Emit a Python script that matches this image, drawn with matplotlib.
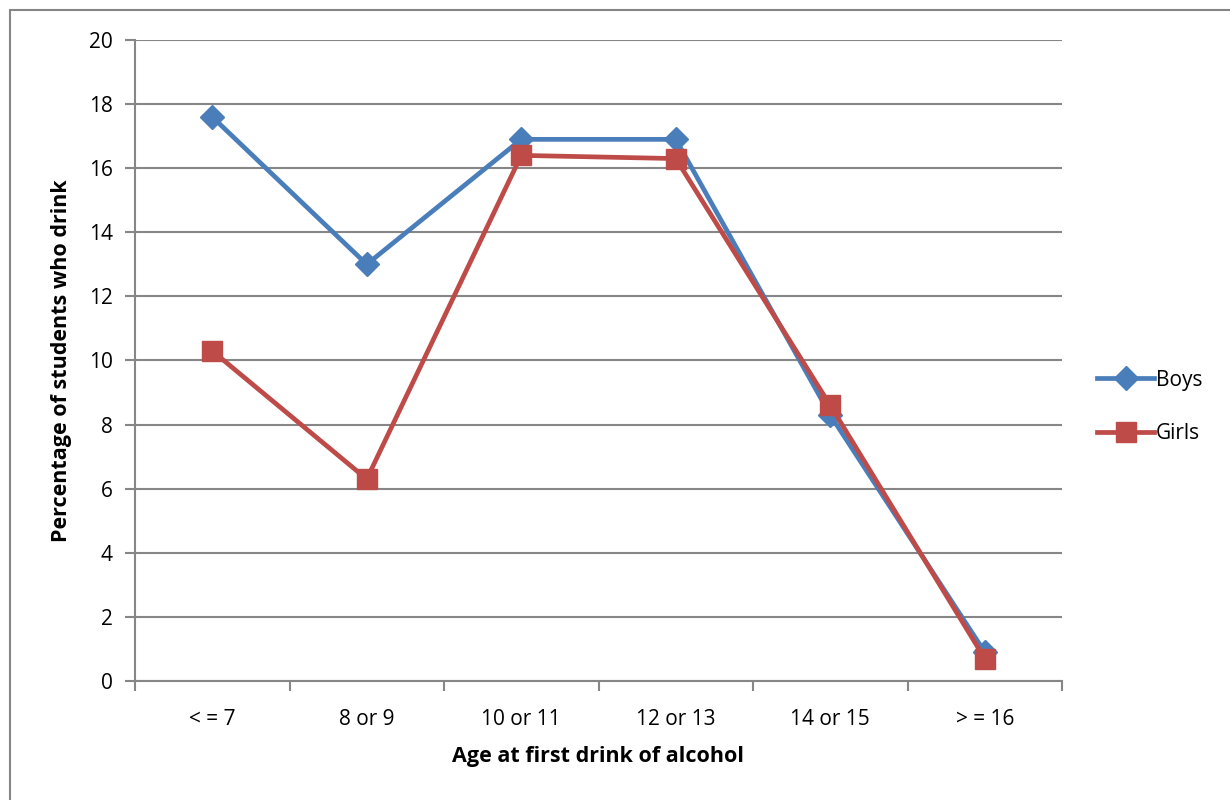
import numpy as np
import matplotlib.pyplot as plt
from matplotlib.patches import Rectangle

categories = ['< = 7', '8 or 9', '10 or 11', '12 or 13', '14 or 15', '> = 16']
boys = [17.6, 13.0, 16.9, 16.9, 8.3, 0.9]
girls = [10.3, 6.3, 16.4, 16.3, 8.6, 0.7]

plt.rcParams['font.family'] = ['Open Sans', 'DejaVu Sans']
grey = '#868686'

fig = plt.figure(figsize=(12.3, 8), dpi=100)
# outer chart frame (cut off on the right and bottom like the original)
fig.patches.append(Rectangle((10 / 1230, -0.5), 2, 1 - 10 / 800 + 0.5,
                             transform=fig.transFigure, fill=False,
                             edgecolor=grey, linewidth=1.5))

ax = fig.add_axes([135 / 1230, 1 - 681 / 800, (1062 - 135) / 1230, (681 - 40) / 800])
x = np.arange(len(categories)) + 0.5

ax.plot(x, boys, color='#4A7EBB', lw=3.4, marker='D', markersize=12, label='Boys', zorder=3)
ax.plot(x, girls, color='#BE4B48', lw=3.4, marker='s', markersize=14, label='Girls', zorder=4)

ax.set_xlim(0, len(categories))
ax.set_ylim(0, 20)
ax.set_yticks(np.arange(0, 21, 2))
ax.set_xticks(np.arange(0, len(categories) + 1))
ax.set_xticklabels([])
ax.set_xticks(x, minor=True)
ax.set_xticklabels(categories, minor=True)
ax.tick_params(axis='x', which='minor', length=0, pad=20, labelsize=15)
ax.tick_params(axis='x', which='major', length=7, width=1.5, color=grey)
ax.tick_params(axis='y', length=7, width=1.5, color=grey, labelsize=15, pad=9)

ax.grid(axis='y', color=grey, lw=1.5)
ax.set_axisbelow(True)
for s in ['top', 'right']:
    ax.spines[s].set_visible(False)
for s in ['left', 'bottom']:
    ax.spines[s].set_color(grey)
    ax.spines[s].set_linewidth(1.5)

ax.set_xlabel('Age at first drink of alcohol', fontsize=15.5, fontweight='bold', labelpad=12)
ax.set_ylabel('Percentage of students who drink', fontsize=15.5, fontweight='bold', labelpad=12)

ax.legend(loc='center left', bbox_to_anchor=(1.018, 0.428), frameon=False,
          fontsize=15, handlelength=2.7, handletextpad=0.1, labelspacing=1.55)

fig.savefig('out.png', dpi=100)
